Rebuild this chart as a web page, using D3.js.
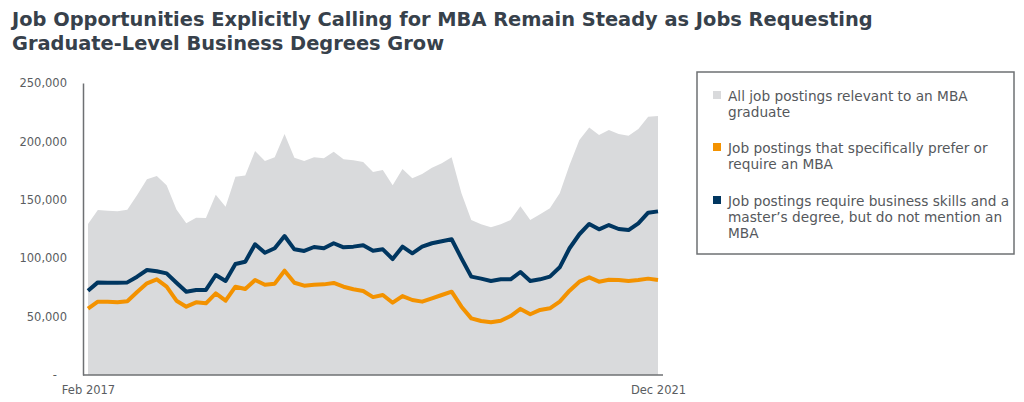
<!DOCTYPE html>
<html>
<head>
<meta charset="utf-8">
<script src="https://cdn.jsdelivr.net/npm/d3@7"></script>
<style>
  body { margin: 0; background: #fff; }
  text { font-family: Verdana, "DejaVu Sans", sans-serif; }
</style>
</head>
<body>
<div id="chart"></div>
<script>
// data (monthly, Feb 2017 - Dec 2021)
const months = d3.timeMonth.range(new Date(2017, 1, 1), new Date(2022, 0, 1)).map(d3.timeFormat("%b %Y"));

const allPostings = [129300,141300,140700,140100,141500,154100,167500,170400,162400,141800,129900,134700,134400,154400,144100,
  169800,170700,191800,183200,186400,206300,186100,183200,186400,185500,191200,184700,183800,182400,173700,
  175500,162400,176400,168400,172100,177500,181200,186400,155600,132700,129000,126400,129000,132700,144400,
  132700,137600,142700,155600,179800,201200,211800,205500,209800,206300,204900,210600,221200,221700];

const mbaPostings = [56800,62800,62800,62200,63100,71100,78500,81900,75600,63600,58500,62200,61400,69900,63600,
  75600,73600,81300,77300,78200,89300,79000,76500,77300,77600,78800,75600,73400,71900,66700,
  68500,61900,67600,64200,62800,65600,68500,71300,58500,48500,46200,45100,46500,50500,56600,
  52000,55700,57100,62800,72200,79900,83600,79900,81600,81300,80500,81300,82500,81300];

const mastersPostings = [72200,79300,79000,79000,79300,84200,89900,88800,87000,79000,71300,72800,72800,85600,80500,
  95000,97000,111900,104700,108500,119000,107600,106200,109600,108500,112800,109300,109900,111000,106400,
  107600,99300,109900,104200,109900,112800,114500,116200,99900,84200,82500,80500,81900,81900,88200,
  80500,81900,84200,92200,108500,120500,129300,124700,128400,125000,124100,129900,139000,140100];

const yTicks = [0, 50000, 100000, 150000, 200000, 250000];
const xTickLabels = ["Feb 2017", "Dec 2021"];

const legendItems = [
  {color: "#d9dadc", lines: ["All job postings relevant to an MBA", "graduate"]},
  {color: "#f39200", lines: ["Job postings that specifically prefer or", "require an MBA"]},
  {color: "#003660", lines: ["Job postings require business skills and a", "master\u2019s degree, but do not mention an", "MBA"]}
];

const titleLines = ["Job Opportunities Explicitly Calling for MBA Remain Steady as Jobs Requesting",
  "Graduate-Level Business Degrees Grow"];

// dimensions
const W = 1024, H = 402;
const margin = {top: 83, left: 83};
const width = 580, height = 292;

const svg = d3.select("#chart").append("svg")
  .attr("width", W).attr("height", H);

// title
svg.append("g").selectAll("text")
  .data(titleLines).enter().append("text")
  .attr("x", 12)
  .attr("y", (d, i) => 26 + i * 24)
  .attr("font-size", 19.4)
  .attr("font-weight", "bold")
  .attr("fill", "#37414b")
  .text(d => d);

const g = svg.append("g")
  .attr("transform", `translate(${margin.left},${margin.top})`);

const x = d3.scalePoint().domain(months).range([5, 575]);
const y = d3.scaleLinear().domain([0, 250000]).range([height, 0]);

// area
g.append("path")
  .datum(allPostings)
  .attr("fill", "#d9dadc")
  .attr("d", d3.area()
    .x((d, i) => x(months[i]))
    .y0(y(0))
    .y1(d => y(d)));

// lines
const line = d3.line().x((d, i) => x(months[i])).y(d => y(d));
g.append("path").datum(mbaPostings)
  .attr("fill", "none").attr("stroke", "#f39200").attr("stroke-width", 4)
  .attr("stroke-linejoin", "round").attr("d", line);
g.append("path").datum(mastersPostings)
  .attr("fill", "none").attr("stroke", "#003660").attr("stroke-width", 4)
  .attr("stroke-linejoin", "round").attr("d", line);

// y axis
const yAxis = g.append("g")
  .call(d3.axisLeft(y).tickValues(yTicks).tickSize(0).tickPadding(16)
    .tickFormat(d => d === 0 ? "-" : d3.format(",")(d)));
yAxis.select(".domain").attr("stroke", "#6e7073").attr("stroke-width", 1.5);
yAxis.selectAll("text").attr("font-size", 11.5).attr("fill", "#5a5d61")
  .attr("font-family", "Verdana, 'DejaVu Sans', sans-serif");
yAxis.selectAll(".tick").filter(d => d === 0).select("text").attr("dx", -10);

// x axis
const xAxis = g.append("g")
  .attr("transform", `translate(0,${height})`)
  .call(d3.axisBottom(x).tickValues(xTickLabels).tickSize(0).tickPadding(11));
xAxis.select(".domain").attr("stroke", "#6e7073").attr("stroke-width", 1.5)
  .attr("d", `M0,0H${width}`);
xAxis.selectAll("text").attr("font-size", 11.5).attr("fill", "#5a5d61")
  .attr("font-family", "Verdana, 'DejaVu Sans', sans-serif");

// legend
const legend = svg.append("g").attr("transform", "translate(697,72)");
legend.append("rect")
  .attr("width", 317).attr("height", 182)
  .attr("fill", "none").attr("stroke", "#6e7073").attr("stroke-width", 1.5);

const itemY = [29, 81, 134];
const items = legend.selectAll(".item").data(legendItems).enter().append("g")
  .attr("transform", (d, i) => `translate(16,${itemY[i]})`);
items.append("rect")
  .attr("x", 0).attr("y", -10).attr("width", 8).attr("height", 8)
  .attr("fill", d => d.color);
items.each(function(d) {
  d3.select(this).selectAll("text").data(d.lines).enter().append("text")
    .attr("x", 15)
    .attr("y", (t, j) => j * 16)
    .attr("font-size", 13.7)
    .attr("fill", "#55585c")
    .text(t => t);
});
</script>
</body>
</html>
